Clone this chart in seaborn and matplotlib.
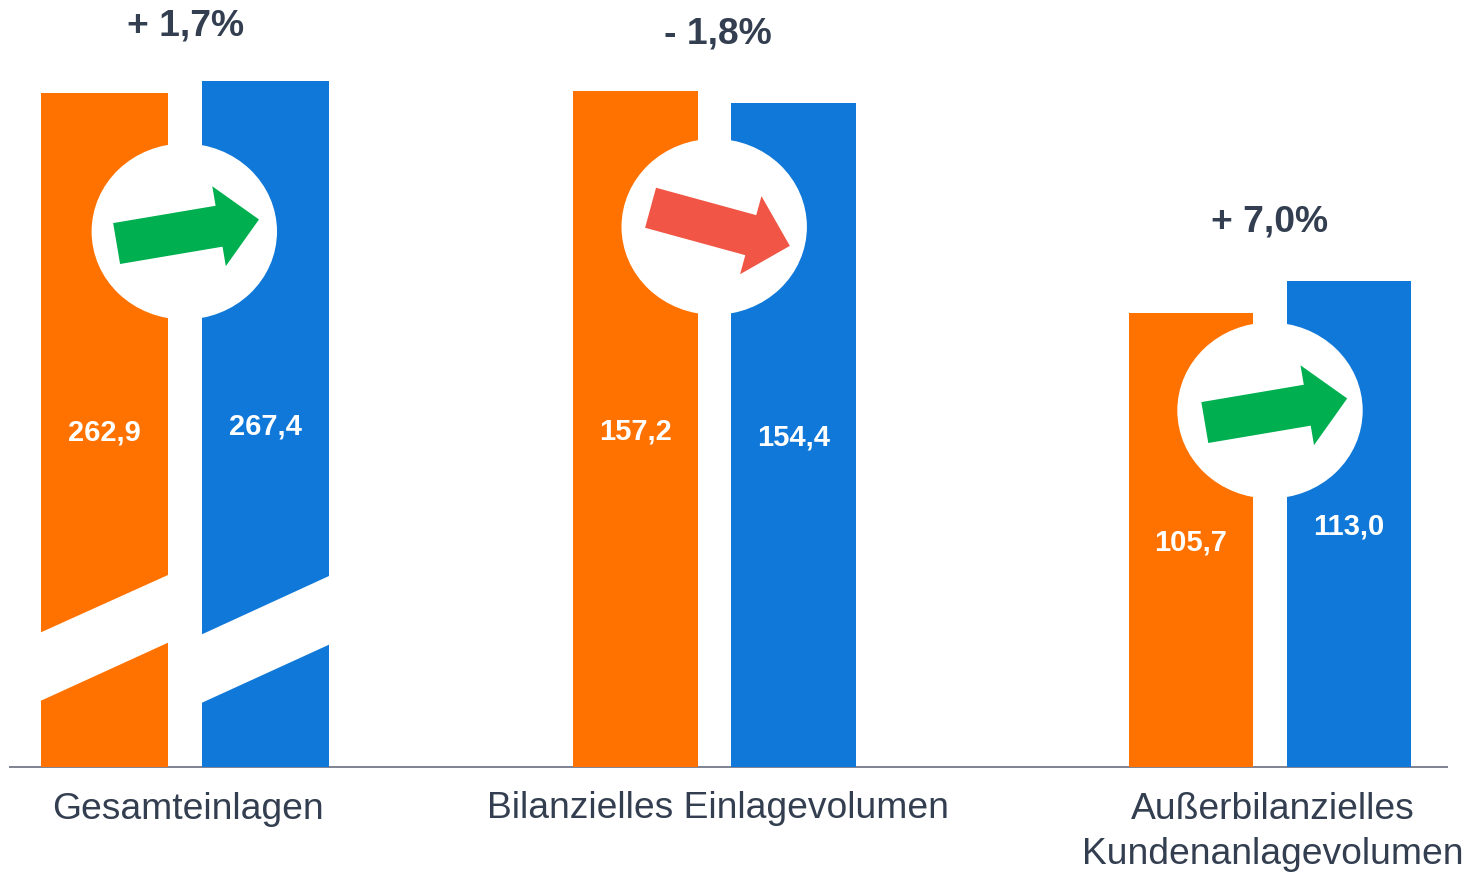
"""Einlagen chart: three paired bars, first pair on a broken axis."""
import matplotlib
matplotlib.use("Agg")
import matplotlib.pyplot as plt
import numpy as np
import pandas as pd
import seaborn as sns
from matplotlib.patches import Ellipse, Polygon
from matplotlib.transforms import Affine2D

# ---- data
categories = ["Gesamteinlagen", "Bilanzielles Einlagevolumen",
              "Außerbilanzielles\nKundenanlagevolumen"]
periods = ["Vorjahr", "Aktuell"]
values_prev = [262.9, 157.2, 105.7]
values_curr = [267.4, 154.4, 113.0]
# the first pair is cut by the axis break, so it is drawn shorter than its value
shown_prev = [156.7, 157.2, 105.7]
shown_curr = [159.5, 154.4, 113.0]
changes = ["+ 1,7%", "- 1,8%", "+ 7,0%"]

# ---- layout (pixels of the 1468x872 picture)
W, H = 1468, 872
BASE_Y = 767.3
PX_PER_UNIT = 4.3
group_x = [185.0, 714.35, 1270.0]
group_w = [322, 316, 316]
GAP = 0.211
change_pos = [(185.5, 35.2), (718, 43.6), (1269.5, 231.2)]
prev_label_pos = [(104.5, 440.5), (635.5, 439.5), (1190.5, 550.5)]
curr_label_pos = [(265, 434.5), (793.5, 445.5), (1349, 534.5)]
cat_pos = [(187.5, 819.2), (717.5, 818), (1272.5, 819.2)]
circle_pos = [(184.3, 231.5), (714.2, 226.8), (1270, 410.5)]
arrow_angle = [9.6, -15.3, 9.6]
arrow_shift = [3.5, 6, 6]
break_bands = [
    [(41, 632.3), (168, 575), (168, 642.7), (41, 700.7)],
    [(202, 634.3), (329, 576), (329, 644.7), (202, 702.7)],
]

ORANGE = "#FF7200"
BLUE = "#0F78D8"
GREEN = "#00B050"
RED = "#F05545"
DARK = "#333F50"

sns.set_theme(style="white")
plt.rcParams["font.family"] = ["Liberation Sans", "DejaVu Sans"]

fig = plt.figure(figsize=(W / 100, H / 100), dpi=100, facecolor="white")
ax = fig.add_axes([0, 0, 1, 1])

# picture pixels (y down) -> display
px = Affine2D().scale(1, -1).translate(0, H)

# one call per group, the widths differ a little
for i, cat in enumerate(categories):
    df = pd.DataFrame({"x": [group_x[i]] * 2,
                       "shown": [shown_prev[i], shown_curr[i]],
                       "period": periods})
    sns.barplot(data=df, x="x", y="shown", hue="period", hue_order=periods,
                palette=[ORANGE, BLUE], saturation=1, native_scale=True,
                width=group_w[i], gap=GAP, legend=False, linewidth=0, ax=ax)

ax.set_xlim(0, W)
ax.set_ylim(-(H - BASE_Y) / PX_PER_UNIT, BASE_Y / PX_PER_UNIT)
ax.axis("off")

ax.hlines(0, 9, 1448, color="#7F8290", lw=1.4, zorder=0.5)

# axis break on the first pair
for band in break_bands:
    ax.add_patch(Polygon(band, closed=True, fc="white", ec="none",
                         transform=px, zorder=3))


def arrow_points(cx, cy, angle, shift):
    # arrow pointing right around (0, 0), then turned and moved into the circle
    L, tail, head, head_len = 144.4, 41.5, 81, 40.5
    pts = np.array([(-L / 2, -tail / 2), (L / 2 - head_len, -tail / 2),
                    (L / 2 - head_len, -head / 2), (L / 2, 0),
                    (L / 2 - head_len, head / 2), (L / 2 - head_len, tail / 2),
                    (-L / 2, tail / 2)])
    a = np.radians(-angle)
    rot = np.array([[np.cos(a), -np.sin(a)], [np.sin(a), np.cos(a)]])
    return pts @ rot.T + (cx + shift, cy)


for i in range(3):
    cx, cy = circle_pos[i]
    ax.add_patch(Ellipse((cx, cy), 185.4, 176, fc="white", ec="none",
                         transform=px, zorder=4))
    ax.add_patch(Polygon(arrow_points(cx, cy, arrow_angle[i], arrow_shift[i]),
                         closed=True, ec="none", transform=px, zorder=5,
                         fc=RED if values_curr[i] < values_prev[i] else GREEN))

    x, y = change_pos[i]
    ax.text(x, y, changes[i], transform=px, ha="center", va="baseline",
            fontsize=26.8, fontweight="bold", color=DARK, zorder=6)

    for pos, val in [(prev_label_pos[i], values_prev[i]),
                     (curr_label_pos[i], values_curr[i])]:
        ax.text(pos[0], pos[1], f"{val:.1f}".replace(".", ","), transform=px,
                ha="center", va="baseline", fontsize=21, fontweight="bold",
                color="white", zorder=6)

    x, y = cat_pos[i]
    for n, line in enumerate(categories[i].split("\n")):
        ax.text(x, y + 45 * n, line, transform=px, ha="center", va="baseline",
                fontsize=26.8, color=DARK, zorder=6)

fig.savefig("out.png", dpi=100, facecolor="white")
